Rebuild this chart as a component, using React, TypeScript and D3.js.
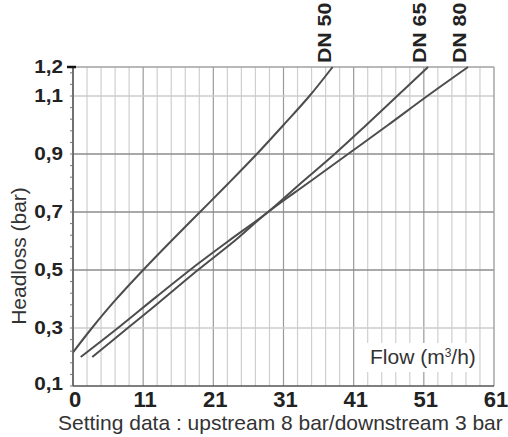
import React from "react";
import * as d3 from "d3";

// values (flow in m3/h axis units, headloss in bar)
const dn50Flow = [1, 3.7, 7, 11, 15, 19.1, 23.2, 27.2, 31, 34.7, 38];
const dn50Loss = [0.216, 0.3, 0.395, 0.5, 0.6, 0.7, 0.8, 0.9, 1.0, 1.1, 1.2];

const dn65Flow = [2.1, 7.4, 13, 19, 24, 28.8, 33.5, 38.3, 42.8, 47.2, 51.6];
const dn65Loss = [0.2, 0.3, 0.41, 0.525, 0.615, 0.7, 0.8, 0.9, 1.0, 1.1, 1.2];

const dn80Flow = [3.75, 8.8, 13, 18.8, 24, 28.8, 34.5, 40.2, 45.9, 51.5, 57.3];
const dn80Loss = [0.2, 0.3, 0.383, 0.5, 0.6, 0.7, 0.8, 0.9, 1.0, 1.1, 1.2];

const seriesNames = ["DN 50", "DN 65", "DN 80"];

const xTickValues = [1, 11, 21, 31, 41, 51, 61];
const xTickLabels = ["0", "11", "21", "31", "41", "51", "61"];
const yTickValues = [0.1, 0.3, 0.5, 0.7, 0.9, 1.1, 1.2];
const yTickLabels = ["0,1", "0,3", "0,5", "0,7", "0,9", "1,1", "1,2"];
const yLightGrid = [0.3, 1.1];

const W = 508;
const H = 437;
const margin = { top: 67, right: 14, bottom: 51, left: 73 };
const FONT = "'Liberation Sans', Arial, Helvetica, sans-serif";

export default function App() {
  const x = d3.scaleLinear().domain([1, 61]).range([margin.left, W - margin.right]);
  const y = d3.scaleLinear().domain([0.1, 1.2]).range([H - margin.bottom, margin.top]);

  const series = [
    { name: seriesNames[0], pts: dn50Flow.map((f, i) => [f, dn50Loss[i]]) },
    { name: seriesNames[1], pts: dn65Flow.map((f, i) => [f, dn65Loss[i]]) },
    { name: seriesNames[2], pts: dn80Flow.map((f, i) => [f, dn80Loss[i]]) },
  ];

  const line = d3
    .line<number[]>()
    .x(d => x(d[0]))
    .y(d => y(d[1]))
    .curve(d3.curveCatmullRom.alpha(0.5));

  const minorX = d3.range(1, 61, 2);
  const yMinor = d3.range(0, 28).map(i => 0.1 + i * 0.04);

  const x0 = x(1);
  const x1 = x(61);
  const yb = y(0.1);
  const yt = y(1.2);

  return (
    <svg
      width={W}
      height={H}
      style={{ position: "absolute", left: 0, top: 0, background: "#fff" }}
      fontFamily={FONT}
    >
      {/* vertical grid */}
      {minorX.map((v, i) => {
        const major = (v - 1) % 10 === 0;
        return (
          <line
            key={"vx" + i}
            x1={x(v)}
            x2={x(v)}
            y1={yt}
            y2={yb}
            stroke={major ? "#9a9a9a" : "#cfcfcf"}
            strokeWidth={1.2}
          />
        );
      })}
      {/* horizontal grid */}
      {yTickValues.slice(1, -1).map((v, i) => (
        <line
          key={"hy" + i}
          x1={x0}
          x2={x1}
          y1={y(v)}
          y2={y(v)}
          stroke={yLightGrid.includes(v) ? "#cccccc" : "#8c8c8c"}
          strokeWidth={1.4}
        />
      ))}
      {/* frame */}
      <line x1={x0} x2={x1} y1={yt} y2={yt} stroke="#a0a0a0" strokeWidth={1.4} />
      <line x1={x1} x2={x1} y1={yt} y2={yb} stroke="#a0a0a0" strokeWidth={1.4} />

      {/* Flow label with white box */}
      <rect x={367} y={343} width={110} height={29} fill="#fff" />
      <text x={370} y={364} fontSize={21} fill="#333">
        Flow (m<tspan dy={-7} fontSize={12}>3</tspan>
        <tspan dy={7}>/h)</tspan>
      </text>

      {/* curves */}
      {series.map(s => (
        <path key={s.name} d={line(s.pts) || ""} fill="none" stroke="#4d4d4d" strokeWidth={2} />
      ))}

      {/* axes */}
      <line x1={x0} x2={x0} y1={yt} y2={yb} stroke="#555" strokeWidth={1.5} />
      <line x1={x0} x2={x1} y1={yb} y2={yb} stroke="#555" strokeWidth={1.5} />
      {yMinor.map((v, i) => (
        <line key={"ym" + i} x1={x0 - 3} x2={x0} y1={y(v)} y2={y(v)} stroke="#777" strokeWidth={1} />
      ))}
      <line x1={x0 - 6} x2={x0 + 3} y1={yt} y2={yt} stroke="#111" strokeWidth={2.5} />

      {/* y tick labels */}
      {yTickValues.map((v, i) => (
        <text
          key={"yl" + i}
          transform={`translate(63,${y(v) + (v === 0.1 ? 4 : 6)}) scale(1.15,1)`}
          textAnchor="end"
          fontSize={18}
          fontWeight="bold"
          fill="#222"
        >
          {yTickLabels[i]}
        </text>
      ))}
      {/* x tick labels */}
      {xTickValues.map((v, i) => (
        <text
          key={"xl" + i}
          x={x(v) + 2}
          y={407}
          textAnchor="middle"
          fontSize={22}
          fontWeight="bold"
          fill="#222"
        >
          {xTickLabels[i]}
        </text>
      ))}

      {/* series labels */}
      {series.map(s => {
        const last = s.pts[s.pts.length - 1];
        const lx = x(last[0]) - 2;
        return (
          <text
            key={"lab" + s.name}
            transform={`translate(${lx},63) rotate(-90) scale(1.12,1)`}
            fontSize={19}
            fontWeight="bold"
            fill="#222"
          >
            {s.name}
          </text>
        );
      })}

      {/* axis titles */}
      <text
        transform={`translate(26,256) rotate(-90)`}
        textAnchor="middle"
        fontSize={21}
        fill="#333"
      >
        Headloss (bar)
      </text>
      <text x={58} y={430} fontSize={21} fill="#333">
        Setting data : upstream 8 bar/downstream 3 bar
      </text>
    </svg>
  );
}
